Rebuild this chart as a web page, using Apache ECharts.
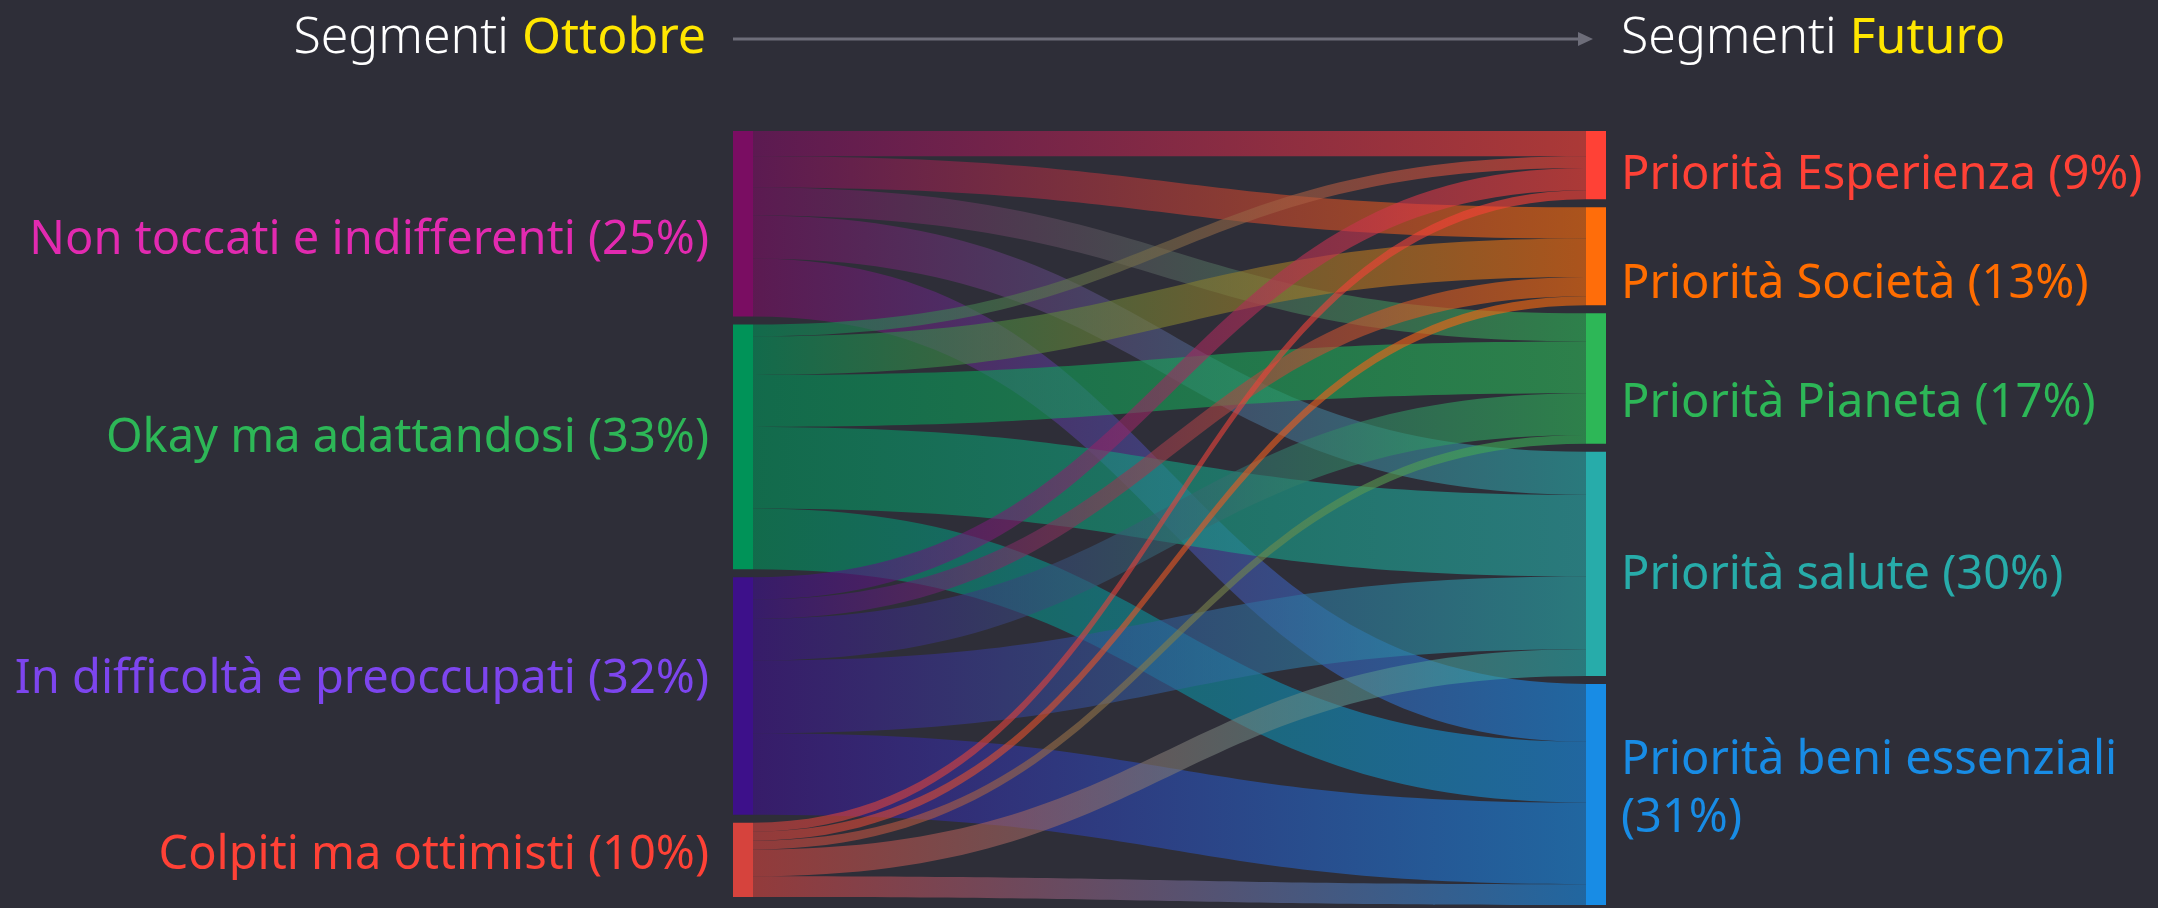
<!DOCTYPE html>
<html>
<head>
<meta charset="utf-8">
<script src="https://cdn.jsdelivr.net/npm/echarts@6/dist/echarts.min.js"></script>
<style>
html,body{margin:0;padding:0;background:#2E2E38;}
#chart{width:2158px;height:908px;}
</style>
</head>
<body>
<div id="chart"></div>
<script>
// ---- data ----
const sources = ['Non toccati e indifferenti', 'Okay ma adattandosi', 'In difficoltà e preoccupati', 'Colpiti ma ottimisti'];
const sourcePct = [25, 33, 32, 10];
const targets = ['Priorità Esperienza', 'Priorità Società', 'Priorità Pianeta', 'Priorità salute', 'Priorità beni essenziali'];
const targetPct = [9, 13, 17, 30, 31];
// flows from each source to the targets (same order as targets)
const flowNonToccati = [3.4, 4.2, 3.8, 5.8, 7.8];
const flowOkay = [1.6, 5.2, 7.0, 11.0, 8.2];
const flowDifficolta = [3.0, 2.6, 5.6, 9.8, 11.0];
const flowColpiti = [1.2, 1.2, 1.2, 3.6, 2.8];
const titleLeft = ['Segmenti', 'Ottobre'];
const titleRight = ['Segmenti', 'Futuro'];

// ---- styles ----
const BG = '#2E2E38';
const FONT = 'Noto Sans';
const sourceNodeColors = ['#7A0D62', '#009358', '#3D108A', '#D6433D'];
const sourceLabelColors = ['#E22AB0', '#2DB757', '#7D45EE', '#FF4136'];
const targetNodeColors = ['#FF4136', '#FF6D0A', '#2DB757', '#27ACAA', '#188CE5'];
const targetLabelColors = ['#FF4136', '#FF6D00', '#2DB757', '#27ACAA', '#188CE5'];
const sourceLabelNudge = [17, -8, -16, -4];
const targetLabelNudge = [10, 28, 25, 12, -5];

const flows = [flowNonToccati, flowOkay, flowDifficolta, flowColpiti];

const nodes = [];
sources.forEach((s, i) => {
  nodes.push({
    name: s,
    itemStyle: { color: sourceNodeColors[i] },
    label: {
      position: 'left', distance: 24, color: sourceLabelColors[i],
      offset: [0, sourceLabelNudge[i]],
      formatter: () => s + ' (' + sourcePct[i] + '%)'
    }
  });
});
targets.forEach((t, j) => {
  nodes.push({
    name: t,
    itemStyle: { color: targetNodeColors[j] },
    label: {
      position: 'right', distance: 15, color: targetLabelColors[j],
      offset: [0, targetLabelNudge[j]],
      width: 570, overflow: 'break', lineHeight: 58,
      formatter: () => t + ' (' + targetPct[j] + '%)'
    }
  });
});
const links = [];
sources.forEach((s, i) => {
  targets.forEach((t, j) => {
    links.push({ source: s, target: t, value: flows[i][j] });
  });
});

const titleRich = {
  a: { fontFamily: FONT, fontSize: 50, fontWeight: 300, fill: '#FFFFFF', color: '#FFFFFF' },
  b: { fontFamily: FONT, fontSize: 50, fontWeight: 'normal', fill: '#FFE600', color: '#FFE600' }
};

const chart = echarts.init(document.getElementById('chart'), null, { renderer: 'canvas' });
chart.setOption({
  backgroundColor: BG,
  animation: false,
  graphic: [
    {
      type: 'text', x: 706, y: 39,
      style: {
        text: '{a|' + titleLeft[0] + '\u00A0}{b|' + titleLeft[1] + '}',
        align: 'right', verticalAlign: 'middle',
        rich: titleRich
      }
    },
    {
      type: 'text', x: 1621, y: 39,
      style: {
        text: '{a|' + titleRight[0] + '\u00A0}{b|' + titleRight[1] + '}',
        align: 'left', verticalAlign: 'middle',
        rich: titleRich
      }
    },
    {
      type: 'line', shape: { x1: 733, y1: 39, x2: 1580, y2: 39 },
      style: { stroke: '#6D6D79', lineWidth: 3 }
    },
    {
      type: 'polygon', shape: { points: [[1578, 32], [1593, 39], [1578, 46]] },
      style: { fill: '#6D6D79' }
    }
  ],
  series: [{
    type: 'sankey',
    left: 733, right: 552, top: 131, bottom: 3,
    nodeWidth: 20, nodeGap: 8,
    layoutIterations: 0,
    draggable: false,
    emphasis: { disabled: true },
    label: { fontFamily: FONT, fontSize: 47 },
    lineStyle: { color: 'gradient', opacity: 0.6, curveness: 0.5 },
    itemStyle: { borderWidth: 0 },
    data: nodes,
    links: links
  }]
});
</script>
</body>
</html>
